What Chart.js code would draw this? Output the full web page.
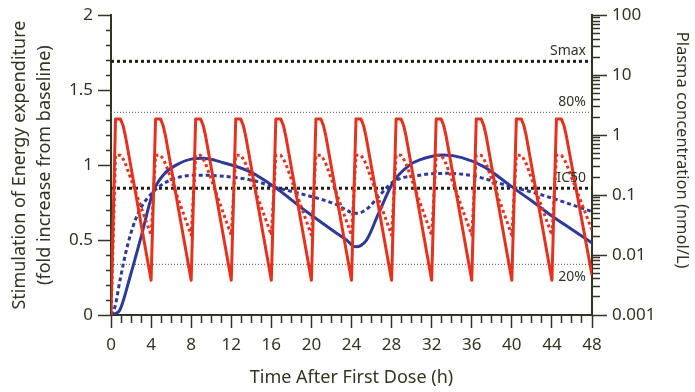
<!DOCTYPE html>
<html>
<head>
<meta charset="utf-8">
<script src="https://cdn.jsdelivr.net/npm/chart.js@4"></script>
<style>
  html, body { margin: 0; padding: 0; background: #fff; }
</style>
</head>
<body>
<canvas id="myChart" width="695" height="392"></canvas>
<script>
// dosing profile (hours) shared by both plasma concentration curves
const doseTimes = [
  0, 0.45, 0.95, 1.2, 1.45,
  4, 4.45, 4.95, 5.2, 5.45,
  8, 8.45, 8.95, 9.2, 9.45,
  12, 12.45, 12.95, 13.2, 13.45,
  16, 16.45, 16.95, 17.2, 17.45,
  20, 20.45, 20.95, 21.2, 21.45,
  24, 24.45, 24.95, 25.2, 25.45,
  28, 28.45, 28.95, 29.2, 29.45,
  32, 32.45, 32.95, 33.2, 33.45,
  36, 36.45, 36.95, 37.2, 37.45,
  40, 40.45, 40.95, 41.2, 41.45,
  44, 44.45, 44.95, 45.2, 45.45,
  48
];
// nmol/L, high dose (solid red)
const concHigh = [
  0.001, 1.85, 1.85, 1.45, 0.95,
  0.0038, 1.85, 1.85, 1.45, 0.95,
  0.0038, 1.85, 1.85, 1.45, 0.95,
  0.0038, 1.85, 1.85, 1.45, 0.95,
  0.0038, 1.85, 1.85, 1.45, 0.95,
  0.0038, 1.85, 1.85, 1.45, 0.95,
  0.0038, 1.85, 1.85, 1.45, 0.95,
  0.0038, 1.85, 1.85, 1.45, 0.95,
  0.0038, 1.85, 1.85, 1.45, 0.95,
  0.0038, 1.85, 1.85, 1.45, 0.95,
  0.0038, 1.85, 1.85, 1.45, 0.95,
  0.0038, 1.85, 1.85, 1.45, 0.95,
  0.0046
];
// nmol/L, low dose (dotted red)
const concLow = [
  0.001, 0.46, 0.46, 0.40, 0.33,
  0.0215, 0.46, 0.46, 0.40, 0.33,
  0.0215, 0.46, 0.46, 0.40, 0.33,
  0.0215, 0.46, 0.46, 0.40, 0.33,
  0.0215, 0.46, 0.46, 0.40, 0.33,
  0.0215, 0.46, 0.46, 0.40, 0.33,
  0.0215, 0.46, 0.46, 0.40, 0.33,
  0.0215, 0.46, 0.46, 0.40, 0.33,
  0.0215, 0.46, 0.46, 0.40, 0.33,
  0.0215, 0.46, 0.46, 0.40, 0.33,
  0.0215, 0.46, 0.46, 0.40, 0.33,
  0.0215, 0.46, 0.46, 0.40, 0.33,
  0.026
];

// energy expenditure stimulation (fold increase)
const effectHighT = [0, 0.3, 0.9, 1.9, 3, 4.2, 5.3, 6.5, 8, 9.2, 11, 13.9, 16.4, 19.5, 22.2, 23.5, 24.4, 25.5, 26.7, 28.2, 29.8, 30.8, 33.2, 35, 37.2, 40, 42, 44, 46, 48];
const effectHigh = [0, 0.005, 0.035, 0.255, 0.52, 0.82, 0.94, 1.0, 1.04, 1.045, 1.02, 0.955, 0.85, 0.69, 0.56, 0.5, 0.455, 0.5, 0.678, 0.89, 1.0, 1.035, 1.067, 1.05, 0.99, 0.855, 0.76, 0.66, 0.57, 0.48];
const effectLowT = [0, 0.4, 0.9, 1.7, 2.7, 4.2, 6.5, 9.2, 12, 14, 16.5, 18.9, 22.2, 24.5, 25.5, 26.7, 28.2, 30.8, 33.5, 36, 40, 42, 44, 46, 48];
const effectLow = [0, 0.055, 0.233, 0.478, 0.678, 0.82, 0.915, 0.933, 0.92, 0.9, 0.85, 0.81, 0.745, 0.678, 0.705, 0.79, 0.89, 0.933, 0.945, 0.93, 0.855, 0.82, 0.78, 0.735, 0.69];

// reference levels on the concentration axis
const refLabels = ['Smax', '80%', 'IC50', '20%'];
const refValues = [17, 2.4, 0.13, 0.007];

const xTicks = [0, 48];
const leftRange = [0, 2];
const rightRange = [0.001, 100];

const RED = '#e5321f';
const BLUE = '#2e3a98';
const INK = '#333322';
const FONT = 'Noto Sans';
const RIGHT_TITLE = 'Plasma concentration (nmol/L)';

function pts(xs, ys) {
  return xs.map((x, i) => ({x: x, y: ys[i]}));
}
function isDecade(v) {
  const l = Math.log10(v);
  return Math.abs(l - Math.round(l)) < 1e-6;
}

const refSets = refLabels.map((name, i) => {
  const thick = name === 'Smax' || name === 'IC50';
  return {
    label: name,
    data: pts(xTicks, [refValues[i], refValues[i]]),
    yAxisID: 'y2',
    borderColor: thick ? '#1e1e12' : '#55554a',
    borderWidth: thick ? 3 : 1,
    borderDash: thick ? [3, 3] : [1, 2],
    pointRadius: 0,
    isRef: true
  };
});

// labels for the reference levels + right axis title
const extraText = {
  id: 'extraText',
  afterDatasetsDraw(chart) {
    const c = chart.ctx;
    c.save();
    c.font = '14px "' + FONT + '"';
    c.fillStyle = INK;
    c.textAlign = 'right';
    chart.data.datasets.forEach((ds, i) => {
      if (!ds.isRef) return;
      const p = chart.getDatasetMeta(i).data[1];
      const below = ds.label === '20%';
      c.textBaseline = below ? 'top' : 'bottom';
      c.fillText(ds.label, p.x - 6, below ? p.y + 6 : p.y - 3);
    });
    c.restore();
  },
  afterDraw(chart) {
    const s = chart.scales.y2;
    const c = chart.ctx;
    c.save();
    c.font = '16.5px "' + FONT + '"';
    c.fillStyle = INK;
    c.textAlign = 'center';
    c.textBaseline = 'middle';
    c.translate(s.right - 13, (s.top + s.bottom) / 2 - 15);
    c.rotate(Math.PI / 2);
    c.fillText(RIGHT_TITLE, 0, 0);
    c.restore();
  }
};

const ctx = document.getElementById('myChart');

new Chart(ctx, {
  type: 'line',
  data: {
    datasets: [
      {
        label: 'high dose conc',
        data: pts(doseTimes, concHigh),
        yAxisID: 'y2',
        borderColor: RED,
        borderWidth: 3,
        borderJoinStyle: 'round',
        pointRadius: 0,
        tension: 0
      },
      {
        label: 'low dose conc',
        data: pts(doseTimes, concLow),
        yAxisID: 'y2',
        borderColor: RED,
        borderWidth: 3,
        borderDash: [3, 3],
        borderJoinStyle: 'round',
        pointRadius: 0,
        tension: 0
      },
      {
        label: 'high dose effect',
        data: pts(effectHighT, effectHigh),
        yAxisID: 'y',
        borderColor: BLUE,
        borderWidth: 3,
        pointRadius: 0,
        cubicInterpolationMode: 'monotone'
      },
      {
        label: 'low dose effect',
        data: pts(effectLowT, effectLow),
        yAxisID: 'y',
        borderColor: BLUE,
        borderWidth: 3,
        borderDash: [4, 3],
        pointRadius: 0,
        cubicInterpolationMode: 'monotone'
      }
    ].concat(refSets)
  },
  plugins: [extraText],
  options: {
    responsive: false,
    animation: false,
    layout: { padding: { top: 6, left: 0, right: 0, bottom: 0 } },
    plugins: {
      legend: { display: false },
      tooltip: { enabled: false }
    },
    scales: {
      x: {
        type: 'linear',
        min: xTicks[0],
        max: xTicks[1],
        afterFit: s => { s.height = 77; },
        ticks: {
          stepSize: 1,
          autoSkip: false,
          maxRotation: 0,
          padding: 7,
          color: INK,
          font: { family: FONT, size: 17 },
          callback: v => (v % 4 === 0 ? String(v) : '')
        },
        grid: {
          drawOnChartArea: false,
          tickLength: 13,
          tickWidth: 1.5,
          tickColor: INK,
          tickBorderDash: c => (c.tick && c.tick.value % 4 === 0 ? [] : [7, 100])
        },
        border: { color: INK, width: 2 },
        title: {
          display: true,
          text: 'Time After First Dose (h)',
          color: INK,
          font: { family: FONT, size: 18 },
          padding: { top: 2, bottom: 3 }
        }
      },
      y: {
        position: 'left',
        min: leftRange[0],
        max: leftRange[1],
        afterFit: s => { s.width = 111; },
        ticks: {
          stepSize: 0.1,
          autoSkip: false,
          padding: 5,
          color: INK,
          font: { family: FONT, size: 17 },
          callback: v => {
            const h = Math.round(v * 10);
            return h % 5 === 0 ? String(h / 10) : '';
          }
        },
        grid: {
          drawOnChartArea: false,
          tickLength: 13,
          tickWidth: 1.5,
          tickColor: INK,
          tickBorderDash: c => (c.tick && Math.round(c.tick.value * 10) % 5 === 0 ? [] : [0, 8, 5, 100])
        },
        border: { color: INK, width: 2 },
        title: {
          display: true,
          text: ['Stimulation of Energy expenditure', '(fold increase from baseline)'],
          color: INK,
          font: { family: FONT, size: 18, lineHeight: 1.4 },
          padding: { top: 7, bottom: 2 }
        }
      },
      y2: {
        type: 'logarithmic',
        position: 'right',
        min: rightRange[0],
        max: rightRange[1],
        afterFit: s => { s.width = 103; },
        afterBuildTicks: s => {
          const list = [];
          for (let e = -3; e <= 2; e++) {
            for (let m = 1; m <= 9; m++) {
              const v = parseFloat((m * Math.pow(10, e)).toPrecision(3));
              if (v <= rightRange[1] + 1e-9) list.push({ value: v });
            }
          }
          s.ticks = list;
        },
        ticks: {
          autoSkip: false,
          padding: 5,
          color: INK,
          font: { family: FONT, size: 17 },
          callback: v => (isDecade(v) ? String(v) : '')
        },
        grid: {
          drawOnChartArea: false,
          tickLength: 15,
          tickWidth: 1.5,
          tickColor: INK,
          tickBorderDash: c => (c.tick && isDecade(c.tick.value) ? [] : [7, 100])
        },
        border: { color: INK, width: 2 }
      }
    }
  }
});
</script>
</body>
</html>
